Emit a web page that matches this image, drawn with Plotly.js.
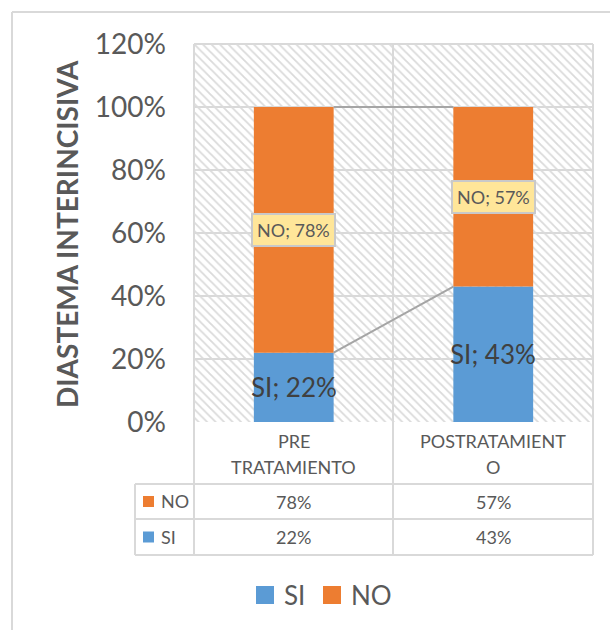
<!DOCTYPE html>
<html>
<head>
<meta charset="utf-8">
<script src="https://cdn.plot.ly/plotly-3.0.1.min.js"></script>
<style>
  html, body { margin: 0; padding: 0; background: #ffffff; }
  #chart { width: 610px; height: 630px; }
</style>
</head>
<body>
<div id="chart"></div>
<script>
// Diastema interincisivo: proportion SI / NO before and after treatment
const categories = ['PRE TRATAMIENTO', 'POSTRATAMIENTO'];
const headerLines = [['PRE', 'TRATAMIENTO'], ['POSTRATAMIENT', 'O']];
const seriesNames = ['SI', 'NO'];
const siValues = [0.22, 0.43];
const noValues = [0.78, 0.57];
const yTickVals = [0, 0.2, 0.4, 0.6, 0.8, 1.0, 1.2];
const yTickText = ['0%', '20%', '40%', '60%', '80%', '100%', '120%'];
const yAxisTitle = 'DIASTEMA INTERINCISIVA';

const W = 610, H = 630;
const M = { l: 194, r: 17, t: 44, b: 208 };
const plotW = W - M.l - M.r, plotH = H - M.t - M.b;
// pixel -> paper helpers for the table and frame drawn outside the plot area
const px = x => (x - M.l) / plotW;
const py = y => (H - M.b - y) / plotH;

const BLUE = '#5B9BD5', ORANGE = '#ED7D31';
const GRID = '#D9D9D9', TXT = '#595959';
const FONT = 'Lato, "Open Sans", sans-serif';
const pct = v => Math.round(v * 100) + '%';
const xs = categories.map((_, i) => i);
const BW = 0.4;

const traces = [
  // hatched plot background
  {
    type: 'bar', x: xs, y: xs.map(() => 1.2), width: 1,
    marker: { color: 'rgba(0,0,0,0)', line: { width: 0 },
      pattern: { shape: '\\', fgcolor: '#DADADA', bgcolor: 'rgba(0,0,0,0)', size: 6, solidity: 0.3 } },
    hoverinfo: 'skip', showlegend: false
  },
  {
    type: 'bar', name: seriesNames[0], x: xs, y: siValues, width: BW,
    marker: { color: BLUE, line: { width: 0 } }, showlegend: false
  },
  {
    type: 'bar', name: seriesNames[1], x: xs, y: noValues, base: siValues, width: BW,
    marker: { color: ORANGE, line: { width: 0 } }, showlegend: false
  },
  // series lines between the stacked segments
  {
    type: 'scatter', mode: 'lines', x: [xs[0] + BW / 2, xs[1] - BW / 2],
    y: [siValues[0], siValues[1]], line: { color: '#A5A5A5', width: 2 },
    hoverinfo: 'skip', showlegend: false
  },
  {
    type: 'scatter', mode: 'lines', x: [xs[0] + BW / 2, xs[1] - BW / 2],
    y: [siValues[0] + noValues[0], siValues[1] + noValues[1]], line: { color: '#A5A5A5', width: 2 },
    hoverinfo: 'skip', showlegend: false
  }
];

const shapes = [];
const line = (x0, y0, x1, y1, color, width) => shapes.push({
  type: 'line', xref: 'paper', yref: 'paper',
  x0: px(x0), y0: py(y0), x1: px(x1), y1: py(y1),
  line: { color: color || GRID, width: width || 2 }, layer: 'below'
});

// chart frame
line(12, 12, 612, 12, '#D9D9D9', 2);
line(12, 12, 12, 632, '#D9D9D9', 2);
// plot borders and category divider
line(194, 44, 593, 44);
line(194, 44, 194, 555);
line(393, 44, 393, 555);
line(593, 44, 593, 555);
// data table rows
line(135, 484, 593, 484);
line(135, 519, 593, 519);
line(135, 555, 593, 555);
line(135, 484, 135, 555);

const annotations = [];
// axis title
annotations.push({
  xref: 'paper', yref: 'paper', x: px(67), y: py(234), text: '<b>' + yAxisTitle + '</b>',
  textangle: -90, showarrow: false, font: { family: FONT, size: 28, color: TXT },
  xanchor: 'center', yanchor: 'middle'
});

// data labels
xs.forEach(i => {
  annotations.push({
    x: i, y: siValues[i] / 2, xref: 'x', yref: 'y', showarrow: false,
    text: seriesNames[0] + '; ' + pct(siValues[i]),
    font: { family: FONT, size: 26, color: '#404040' }
  });
  annotations.push({
    x: i, y: siValues[i] + noValues[i] / 2, xref: 'x', yref: 'y', showarrow: false,
    text: seriesNames[1] + '; ' + pct(noValues[i]),
    font: { family: FONT, size: 18, color: TXT },
    bgcolor: '#FFE699', bordercolor: '#C9C9C9', borderwidth: 2, borderpad: 4
  });
});

// data table: header + values
const colCenters = [293.5, 493];
xs.forEach(i => {
  headerLines[i].forEach((t, k) => {
    annotations.push({
      xref: 'paper', yref: 'paper', x: px(colCenters[i]), y: py(441 + k * 26),
      text: t, showarrow: false, font: { family: FONT, size: 18, color: TXT },
      xanchor: 'center', yanchor: 'middle'
    });
  });
  annotations.push({
    xref: 'paper', yref: 'paper', x: px(colCenters[i]), y: py(502),
    text: pct(noValues[i]), showarrow: false, font: { family: FONT, size: 18, color: TXT },
    xanchor: 'center', yanchor: 'middle'
  });
  annotations.push({
    xref: 'paper', yref: 'paper', x: px(colCenters[i]), y: py(537),
    text: pct(siValues[i]), showarrow: false, font: { family: FONT, size: 18, color: TXT },
    xanchor: 'center', yanchor: 'middle'
  });
});

// table legend keys
const keyRows = [{ name: seriesNames[1], color: ORANGE, y: 501.5 }, { name: seriesNames[0], color: BLUE, y: 537 }];
keyRows.forEach(k => {
  shapes.push({ type: 'rect', xref: 'paper', yref: 'paper',
    x0: px(143), x1: px(154), y0: py(k.y - 5.5), y1: py(k.y + 5.5),
    fillcolor: k.color, line: { width: 0 } });
  annotations.push({
    xref: 'paper', yref: 'paper', x: px(159), y: py(k.y), text: k.name, showarrow: false,
    font: { family: FONT, size: 18, color: TXT }, xanchor: 'left', yanchor: 'middle'
  });
});

// bottom legend
const legendItems = [{ name: seriesNames[0], color: BLUE, x: 256 }, { name: seriesNames[1], color: ORANGE, x: 323 }];
legendItems.forEach(it => {
  shapes.push({ type: 'rect', xref: 'paper', yref: 'paper',
    x0: px(it.x), x1: px(it.x + 18), y0: py(586), y1: py(604),
    fillcolor: it.color, line: { width: 0 } });
  annotations.push({
    xref: 'paper', yref: 'paper', x: px(it.x + 26), y: py(595), text: it.name, showarrow: false,
    font: { family: FONT, size: 26, color: TXT }, xanchor: 'left', yanchor: 'middle'
  });
});

const layout = {
  width: W, height: H,
  margin: M,
  paper_bgcolor: '#ffffff', plot_bgcolor: '#ffffff',
  barmode: 'overlay',
  showlegend: false,
  xaxis: {
    range: [-0.5, 1.5], showticklabels: false, showgrid: false, zeroline: false,
    ticks: '', fixedrange: true
  },
  yaxis: {
    range: [0, 1.2], tickvals: yTickVals, ticktext: yTickText,
    showgrid: true, gridcolor: GRID, gridwidth: 2, zeroline: false,
    tickfont: { family: FONT, size: 28, color: TXT }, ticks: '', ticklabelstandoff: 27,
    fixedrange: true
  },
  shapes: shapes,
  annotations: annotations
};

Plotly.newPlot('chart', traces, layout, { displayModeBar: false, staticPlot: true });
</script>
</body>
</html>
